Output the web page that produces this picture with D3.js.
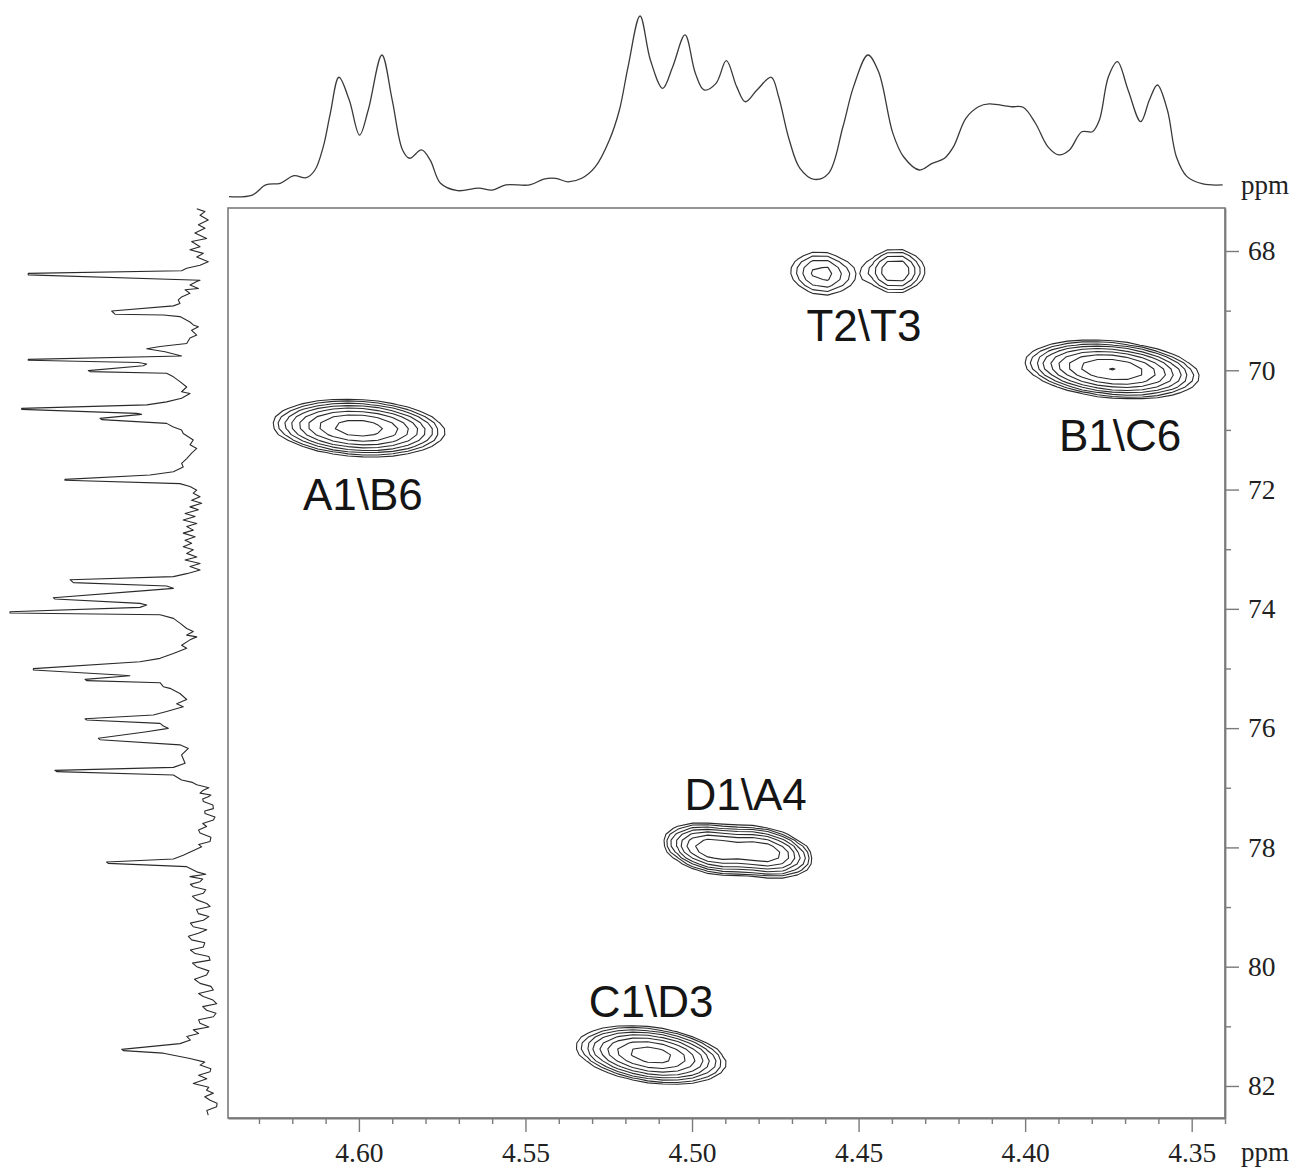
<!DOCTYPE html>
<html>
<head>
<meta charset="utf-8">
<script src="https://cdn.jsdelivr.net/npm/d3@7"></script>
<style>
  body { margin: 0; background: #fff; }
  svg { display: block; }
</style>
</head>
<body>
<svg id="chart" width="1299" height="1169"></svg>
<script>
// ---- data ----
const hTicks = [4.60, 4.55, 4.50, 4.45, 4.40, 4.35];
const hMinor = [4.63, 4.62, 4.61, 4.59, 4.58, 4.57, 4.56, 4.54, 4.53, 4.52, 4.51,
                4.49, 4.48, 4.47, 4.46, 4.44, 4.43, 4.42, 4.41, 4.39, 4.38, 4.37, 4.36, 4.34];
const cTicks = [68, 70, 72, 74, 76, 78, 80, 82];
const cMinor = [69, 71, 73, 75, 77, 79, 81];

// 1H projection (top): [ppm, relative intensity]
const protonTrace = [
  [4.639, 1.8], [4.632, 2.7], [4.628, 8.2], [4.6236, 9.1], [4.6195, 13.2], [4.6158, 12.1],
  [4.6132, 16.3], [4.6107, 29], [4.6086, 47], [4.606, 66.7], [4.6029, 54.3], [4.5998, 35.3],
  [4.5972, 48.9], [4.5931, 78.8], [4.59, 54.3], [4.5869, 27.2], [4.5848, 22.7], [4.5812, 27.2],
  [4.5786, 21.7], [4.5755, 9.1], [4.5704, 5.1], [4.5641, 6.4], [4.56, 5.4], [4.5559, 8.2],
  [4.5487, 8.2], [4.5445, 11.4], [4.5409, 11.8], [4.5373, 9.9], [4.5331, 11.8], [4.529, 18.1],
  [4.5248, 32.6], [4.5218, 48.9], [4.5192, 72.4], [4.5156, 100], [4.5125, 76.1], [4.5088, 60.7],
  [4.5058, 72.4], [4.5021, 89.7], [4.499, 68.9], [4.4964, 59.8], [4.4928, 63.4], [4.4897, 75.7],
  [4.4866, 61.6], [4.484, 53.4], [4.4805, 59.8], [4.4762, 66.7], [4.474, 56.1], [4.4708, 32.6],
  [4.4676, 17.2], [4.4633, 11.2], [4.459, 14.5], [4.4547, 39.8], [4.4515, 61.6], [4.4472, 78.8],
  [4.444, 69.7], [4.4397, 36.2], [4.4365, 23.5], [4.4317, 16.3], [4.4279, 19.9], [4.4242, 22.7],
  [4.4215, 29], [4.4178, 44.4], [4.414, 50.7], [4.4108, 52.2], [4.4044, 50.7], [4.4006, 50.4],
  [4.3969, 41.7], [4.3932, 29], [4.3899, 24.5], [4.3867, 27.2], [4.383, 37.1], [4.3798, 37.1],
  [4.3777, 43.5], [4.375, 67], [4.3723, 75.2], [4.3691, 59.8], [4.3653, 42.6], [4.3627, 54.3],
  [4.3603, 62.5], [4.3573, 48.9], [4.3546, 23.5], [4.3514, 12.7], [4.3466, 8.7], [4.3407, 8.2]
];

// 13C projection (left): [ppm, relative intensity]
const carbonTrace = [
  [67.29, 8.9], [67.34, 4.9], [67.40, 7.3], [67.48, 3.3], [67.56, 8.1], [67.62, 4.9], [67.70, 9.8],
  [67.79, 4.1], [67.84, 11.4], [67.93, 7.3], [67.98, 12.2], [68.04, 5.7], [68.10, 8.9], [68.18, 3.3],
  [68.24, 7.3], [68.29, 13.8], [68.33, 16.3], [68.375, 91.1], [68.40, 91.1], [68.49, 7.3], [68.51, 8.9],
  [68.57, 12.2], [68.63, 8.1], [68.65, 14.6], [68.71, 12.2], [68.77, 16.3], [68.82, 17.9], [68.88, 17.1],
  [68.92, 20.3], [69.006, 50.4], [69.06, 48.8], [69.073, 25.2], [69.10, 17.1], [69.19, 12.2], [69.24, 10.6],
  [69.27, 8.1], [69.33, 11.4], [69.41, 8.9], [69.46, 12.2], [69.55, 13.8], [69.60, 26.8], [69.64, 33.3],
  [69.69, 24.4], [69.76, 16.3], [69.817, 91.1], [69.833, 91.1], [69.87, 37.4], [69.895, 33.3], [69.923, 35.0],
  [70.006, 61.8], [70.023, 61.0], [70.05, 23.6], [70.11, 20.3], [70.19, 17.1], [70.28, 13.8], [70.36, 16.3],
  [70.39, 12.2], [70.47, 16.3], [70.53, 23.6], [70.58, 33.3], [70.638, 94.3], [70.655, 94.3], [70.722, 38.2],
  [70.739, 35.8], [70.806, 56.1], [70.828, 55.3], [70.89, 23.6], [70.95, 20.3], [71.00, 16.3], [71.06, 15.5],
  [71.17, 10.6], [71.25, 12.2], [71.31, 8.9], [71.39, 11.4], [71.48, 13.8], [71.56, 16.3], [71.62, 15.5],
  [71.70, 20.3], [71.756, 31.7], [71.829, 73.2], [71.845, 73.2], [71.90, 17.1], [71.95, 12.2], [72.01, 8.9],
  [72.06, 10.6], [72.12, 7.3], [72.18, 11.4], [72.23, 6.5], [72.29, 12.2], [72.34, 8.1], [72.40, 14.6],
  [72.45, 9.7], [72.51, 15.5], [72.57, 8.9], [72.62, 13.8], [72.68, 10.6], [72.73, 15.5], [72.79, 9.7],
  [72.85, 14.6], [72.90, 11.4], [72.96, 15.5], [73.01, 10.6], [73.07, 13.8], [73.13, 8.9], [73.18, 14.6],
  [73.24, 7.3], [73.29, 12.2], [73.35, 7.3], [73.41, 13.8], [73.46, 20.3], [73.511, 70.7], [73.561, 69.1],
  [73.617, 23.6], [73.656, 20.3], [73.695, 34.1], [73.813, 78.9], [73.835, 78.1], [73.908, 36.6],
  [73.936, 33.3], [73.975, 36.6], [74.048, 100], [74.07, 100], [74.10, 26.8], [74.16, 20.3], [74.24, 17.1],
  [74.33, 13.8], [74.38, 10.6], [74.44, 13.8], [74.47, 8.9], [74.52, 12.2], [74.61, 16.3], [74.66, 13.8],
  [74.75, 20.3], [74.83, 26.8], [74.886, 36.6], [75.003, 88.6], [75.026, 88.6], [75.11, 46.4],
  [75.121, 41.5], [75.182, 63.4], [75.204, 62.6], [75.238, 26.8], [75.305, 25.2], [75.333, 22.0],
  [75.42, 17.1], [75.52, 13.8], [75.59, 18.7], [75.64, 15.5], [75.72, 23.6], [75.78, 30.1], [75.842, 63.4],
  [75.864, 62.6], [75.92, 26.8], [75.965, 25.2], [76.004, 22.8], [76.06, 33.3], [76.171, 56.9],
  [76.194, 56.1], [76.28, 17.1], [76.34, 13.0], [76.45, 16.3], [76.59, 14.6], [76.658, 20.3],
  [76.708, 78.1], [76.73, 77.2], [76.786, 20.3], [76.87, 16.3], [76.91, 11], [76.95, 8.9], [77.00, 3],
  [77.04, 5.7], [77.09, 7.3], [77.12, 2], [77.15, 3.3], [77.19, 6], [77.23, 5.7], [77.29, 1], [77.35, 0.8],
  [77.39, 5], [77.43, 4.9], [77.49, 0], [77.54, 0.8], [77.60, 6], [77.65, 4.1], [77.71, 8], [77.76, 7.3],
  [77.83, 2], [77.90, 2.4], [77.95, 8], [77.99, 6.5], [78.06, 11], [78.13, 15.5], [78.195, 20.3],
  [78.245, 52.9], [78.267, 52.1], [78.323, 13.8], [78.41, 8.9], [78.45, 4.5], [78.49, 12.2], [78.53, 6],
  [78.575, 7.3], [78.62, 12], [78.66, 10.6], [78.71, 4.5], [78.77, 5.7], [78.82, 11], [78.88, 8.9],
  [78.94, 4], [78.99, 2.4], [79.04, 9], [79.11, 8.1], [79.16, 3], [79.22, 5.7], [79.27, 12], [79.33, 10.6],
  [79.38, 4], [79.44, 8.1], [79.49, 13], [79.55, 11.4], [79.60, 5], [79.67, 5.7], [79.72, 12], [79.78, 9.7],
  [79.83, 3], [79.89, 2.4], [79.94, 11], [80.00, 8.9], [80.07, 3], [80.14, 4.1], [80.21, 10], [80.28, 7.3],
  [80.33, 2], [80.39, 0.8], [80.45, 8], [80.50, 5.7], [80.56, 1], [80.62, -0.8], [80.67, 6], [80.73, 4.1],
  [80.78, -0.5], [80.84, 0.8], [80.89, 8], [80.95, 7.3], [81.01, 3], [81.06, 10.6], [81.12, 8], [81.17, 13.8],
  [81.23, 12], [81.29, 17.1], [81.386, 45.5], [81.408, 44.7], [81.45, 25.2], [81.54, 12.2], [81.60, 5],
  [81.65, 7.3], [81.71, 2], [81.76, 2.4], [81.82, 8], [81.88, 4], [81.96, 10.6], [82.02, 3], [82.07, 4.1],
  [82.12, 0.8], [82.18, 5], [82.24, 2.4], [82.29, -1], [82.35, -0.8], [82.41, 4], [82.49, 3.3]
];

// cross peaks: [1H ppm, 13C ppm, 1H width, 13C width, height, tilt]
const crossPeaks = [
  [4.6001, 70.968, 0.0113, 0.211, 13, 0.15],   // A1\B6
  [4.3739, 69.987, 0.0111, 0.210, 15, 0.25],   // B1\C6
  [4.4610, 68.377, 0.0059, 0.236, 3.2, 0.10],  // T2
  [4.4389, 68.335, 0.0050, 0.223, 3.95, 0.0],  // T3
  [4.4940, 78.027, 0.0066, 0.200, 10.1, 0.3],  // D1\A4
  [4.4784, 78.077, 0.0066, 0.200, 10.1, 0.3],
  [4.5122, 81.481, 0.0098, 0.215, 13, 0.3]     // C1\D3
];
const contourLevels = [1, 1.4, 1.96, 2.74, 3.84, 5.38, 7.53, 10.54, 14.76];

const peakLabels = [
  ["A1\\B6", 4.5988, 72.34],
  ["B1\\C6", 4.3715, 71.35],
  ["T2\\T3", 4.4484, 69.51],
  ["D1\\A4", 4.4839, 77.37],
  ["C1\\D3", 4.5123, 80.84]
];

// ---- layout ----
const svg = d3.select("#chart");
const serif = "'Liberation Serif', 'Times New Roman', serif";
const sans = "'Liberation Sans', Arial, sans-serif";
const axisGray = "#7a7a7a";

const x = d3.scaleLinear().domain([4.6393, 4.34]).range([228, 1225]);
const y = d3.scaleLinear().domain([67.279, 82.537]).range([208, 1118]);
const topI = d3.scaleLinear().domain([0, 100]).range([200, 16]);
const leftI = d3.scaleLinear().domain([0, 100]).range([215, 10]);

// frame
svg.append("rect")
  .attr("x", x.range()[0]).attr("y", y.range()[0])
  .attr("width", x.range()[1] - x.range()[0])
  .attr("height", y.range()[1] - y.range()[0])
  .attr("fill", "none").attr("stroke", axisGray).attr("stroke-width", 1.6);

// bottom axis
svg.append("g").attr("transform", `translate(0,${y.range()[1]})`)
  .call(d3.axisBottom(x).tickValues(hTicks).tickSize(14).tickPadding(10)
    .tickSizeOuter(0).tickFormat(d3.format(".2f")));
svg.append("g").attr("transform", `translate(0,${y.range()[1]})`)
  .call(d3.axisBottom(x).tickValues(hMinor).tickSize(6).tickFormat(""))
  .call(g => g.select(".domain").remove());

// right axis
svg.append("g").attr("transform", `translate(${x.range()[1]},0)`)
  .call(d3.axisRight(y).tickValues(cTicks).tickSize(14).tickPadding(9).tickSizeOuter(0));
svg.append("g").attr("transform", `translate(${x.range()[1]},0)`)
  .call(d3.axisRight(y).tickValues(cMinor).tickSize(6).tickFormat(""))
  .call(g => g.select(".domain").remove());

svg.selectAll(".domain").attr("stroke", axisGray).attr("stroke-width", 1.8);
svg.selectAll(".tick line").attr("stroke", axisGray).attr("stroke-width", 1.4);
svg.selectAll(".tick text").attr("font-family", serif).attr("font-size", 27.5).attr("fill", "#222");

svg.append("text").attr("x", 1241).attr("y", 1161).text("ppm")
  .attr("font-family", serif).attr("font-size", 27).attr("fill", "#222");
svg.append("text").attr("x", 1241).attr("y", 194).text("ppm")
  .attr("font-family", serif).attr("font-size", 27).attr("fill", "#222");

// projections
const topLine = d3.line()
  .x(d => x(d[0])).y(d => topI(d[1]))
  .curve(d3.curveCatmullRom.alpha(0.5));
svg.append("path").datum(protonTrace)
  .attr("d", topLine).attr("fill", "none")
  .attr("stroke", "#3a3a3a").attr("stroke-width", 1.3);

const leftLine = d3.line()
  .x(d => leftI(d[1])).y(d => y(d[0]));
svg.append("path").datum(carbonTrace)
  .attr("d", leftLine).attr("fill", "none")
  .attr("stroke", "#2a2a2a").attr("stroke-width", 1.1).attr("stroke-linejoin", "round");

// contour field on a coarse ppm grid
const dh = 0.0045, dc = 0.1;
const h0 = x.domain()[0], c0 = y.domain()[0];
const nx = Math.ceil((h0 - x.domain()[1]) / dh) + 1;
const ny = Math.ceil((y.domain()[1] - c0) / dc) + 1;
const field = new Float64Array(nx * ny);
for (let j = 0; j < ny; j++) {
  const c = c0 + j * dc;
  for (let i = 0; i < nx; i++) {
    const h = h0 - i * dh;
    let v = 0;
    crossPeaks.forEach(([ph, pc, sh, sc, amp, rho]) => {
      const u = (ph - h) / sh, w = (c - pc) / sc;
      const q = (u * u - 2 * rho * u * w + w * w) / (1 - rho * rho);
      if (q < 40) v += amp * Math.exp(-q / 2);
    });
    field[j * nx + i] = v;
  }
}

const rings = d3.contours().size([nx, ny]).thresholds(contourLevels)(field);
const toPx = d3.geoTransform({
  point(gxp, gyp) {
    this.stream.point(x(h0 - (gxp - 0.5) * dh), y(c0 + (gyp - 0.5) * dc));
  }
});
svg.append("g").selectAll("path").data(rings).join("path")
  .attr("d", d3.geoPath(toPx))
  .attr("fill", "none").attr("stroke", "#2b2b2b").attr("stroke-width", 1.1)
  .attr("stroke-linejoin", "round");

// peak labels
svg.append("g").selectAll("text").data(peakLabels).join("text")
  .attr("x", d => x(d[1])).attr("y", d => y(d[2]))
  .attr("text-anchor", "middle")
  .attr("font-family", sans).attr("font-size", 44).attr("fill", "#151515")
  .text(d => d[0]);
</script>
</body>
</html>
